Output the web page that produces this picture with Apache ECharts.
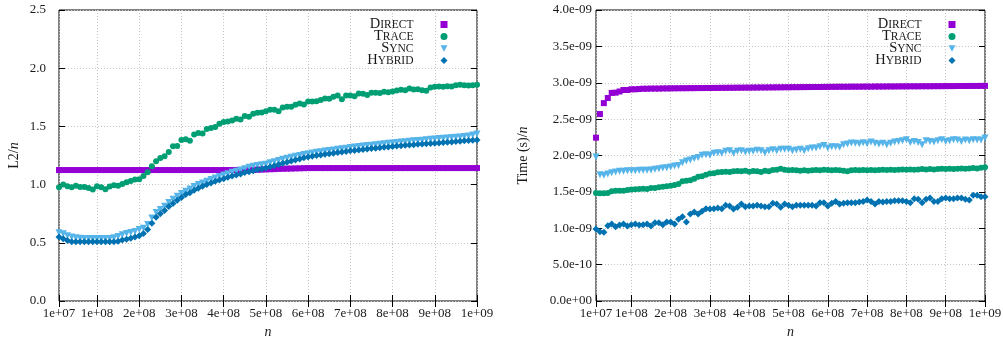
<!DOCTYPE html>
<html>
<head>
<meta charset="utf-8">
<script src="https://cdn.jsdelivr.net/npm/echarts@6/dist/echarts.min.js"></script>
<style>
  html, body { margin: 0; padding: 0; background: #fff; }
  #chart { width: 1003px; height: 338px; }
</style>
</head>
<body>
<div id="chart"></div>
<script>
// problem size n, sampled every 1e7 from 1e7 to 1e9
const nValues = Array.from({ length: 100 }, (_, i) => (i + 1) * 1e7);

const xTicks = [1e7, 1e8, 2e8, 3e8, 4e8, 5e8, 6e8, 7e8, 8e8, 9e8, 1e9];
const xTickLabels = ['1e+07', '1e+08', '2e+08', '3e+08', '4e+08', '5e+08', '6e+08', '7e+08', '8e+08', '9e+08', '1e+09'];
const l2TickLabels = ['0.0', '0.5', '1.0', '1.5', '2.0', '2.5'];
// time axis is kept in units of 1e-9 s
const timeTickLabels = ['0.0e+00', '5.0e-10', '1.0e-09', '1.5e-09', '2.0e-09', '2.5e-09', '3.0e-09', '3.5e-09', '4.0e-09'];

const seriesNames = ['Direct', 'Trace', 'Sync', 'Hybrid'];

// L2 / n
const l2Direct = [
  1.125, 1.125, 1.125, 1.125, 1.125, 1.125, 1.125, 1.125, 1.125, 1.125,
  1.125, 1.125, 1.125, 1.125, 1.125, 1.125, 1.125, 1.125, 1.125, 1.125,
  1.125, 1.125, 1.125, 1.125, 1.125, 1.125, 1.125, 1.125, 1.125, 1.125,
  1.125, 1.125, 1.125, 1.125, 1.125, 1.125, 1.125, 1.125, 1.125, 1.125,
  1.125, 1.125, 1.125, 1.125, 1.125, 1.126, 1.127, 1.128, 1.129, 1.131,
  1.132, 1.133, 1.135, 1.136, 1.137, 1.138, 1.139, 1.14, 1.141, 1.142,
  1.142, 1.142, 1.142, 1.142, 1.142, 1.142, 1.142, 1.142, 1.142, 1.142,
  1.142, 1.142, 1.142, 1.142, 1.142, 1.142, 1.142, 1.142, 1.142, 1.142,
  1.142, 1.142, 1.142, 1.142, 1.142, 1.142, 1.142, 1.142, 1.142, 1.142,
  1.142, 1.142, 1.142, 1.142, 1.142, 1.142, 1.142, 1.142, 1.142, 1.142
];
const l2Trace = [
  0.977, 1.0, 0.986, 0.977, 0.99, 0.98, 0.98, 0.97, 0.957, 0.986,
  0.977, 0.96, 0.983, 0.994, 0.99, 1.006, 1.02, 1.03, 1.043, 1.046,
  1.074, 1.106, 1.157, 1.2, 1.229, 1.243, 1.28, 1.33, 1.331, 1.383,
  1.389, 1.377, 1.43, 1.443, 1.44, 1.477, 1.486, 1.494, 1.523, 1.537,
  1.543, 1.551, 1.566, 1.56, 1.59, 1.583, 1.609, 1.617, 1.62, 1.63,
  1.643, 1.643, 1.631, 1.663, 1.669, 1.669, 1.686, 1.697, 1.689, 1.714,
  1.714, 1.717, 1.726, 1.74, 1.737, 1.754, 1.766, 1.734, 1.766, 1.766,
  1.76, 1.783, 1.78, 1.769, 1.789, 1.789, 1.786, 1.797, 1.794, 1.8,
  1.809, 1.814, 1.811, 1.826, 1.817, 1.82, 1.811, 1.806, 1.834, 1.84,
  1.843, 1.84, 1.846, 1.843, 1.854, 1.857, 1.854, 1.851, 1.854, 1.857
];
const l2Sync = [
  0.586, 0.577, 0.56, 0.549, 0.543, 0.54, 0.537, 0.537, 0.537, 0.537,
  0.537, 0.537, 0.537, 0.543, 0.554, 0.569, 0.58, 0.589, 0.597, 0.614,
  0.626, 0.657, 0.714, 0.76, 0.786, 0.814, 0.846, 0.874, 0.9, 0.923,
  0.943, 0.963, 0.983, 1.0, 1.014, 1.029, 1.043, 1.057, 1.069, 1.083,
  1.094, 1.106, 1.114, 1.126, 1.137, 1.149, 1.157, 1.164, 1.17, 1.175,
  1.187, 1.197, 1.207, 1.217, 1.226, 1.235, 1.243, 1.25, 1.258, 1.265,
  1.271, 1.277, 1.283, 1.288, 1.293, 1.298, 1.303, 1.308, 1.313, 1.318,
  1.322, 1.327, 1.331, 1.335, 1.339, 1.343, 1.347, 1.351, 1.355, 1.358,
  1.362, 1.365, 1.369, 1.372, 1.376, 1.379, 1.382, 1.385, 1.389, 1.392,
  1.395, 1.398, 1.401, 1.404, 1.407, 1.41, 1.414, 1.418, 1.426, 1.434
];
const l2Hybrid = [
  0.549, 0.534, 0.52, 0.509, 0.509, 0.509, 0.509, 0.509, 0.509, 0.509,
  0.509, 0.509, 0.509, 0.509, 0.514, 0.523, 0.531, 0.54, 0.549, 0.56,
  0.58, 0.614, 0.669, 0.72, 0.749, 0.777, 0.811, 0.837, 0.866, 0.889,
  0.914, 0.931, 0.951, 0.969, 0.986, 1.0, 1.014, 1.029, 1.04, 1.051,
  1.063, 1.074, 1.083, 1.091, 1.103, 1.111, 1.12, 1.129, 1.134, 1.143,
  1.153, 1.163, 1.173, 1.183, 1.193, 1.203, 1.212, 1.221, 1.23, 1.238,
  1.244, 1.25, 1.255, 1.26, 1.265, 1.27, 1.275, 1.28, 1.285, 1.29,
  1.294, 1.298, 1.302, 1.306, 1.31, 1.313, 1.317, 1.32, 1.324, 1.328,
  1.331, 1.334, 1.337, 1.34, 1.343, 1.346, 1.349, 1.351, 1.353, 1.355,
  1.358, 1.361, 1.364, 1.367, 1.37, 1.373, 1.376, 1.378, 1.38, 1.383
];

// Time (s) / n, in 1e-9 s
const timeDirect = [
  2.245, 2.57, 2.72, 2.79, 2.86, 2.864, 2.88, 2.9, 2.9, 2.91,
  2.91, 2.914, 2.918, 2.918, 2.92, 2.92, 2.92, 2.922, 2.922, 2.923,
  2.924, 2.924, 2.925, 2.925, 2.926, 2.926, 2.927, 2.927, 2.928, 2.928,
  2.929, 2.929, 2.93, 2.93, 2.931, 2.931, 2.932, 2.932, 2.933, 2.933,
  2.934, 2.934, 2.935, 2.935, 2.936, 2.936, 2.937, 2.937, 2.938, 2.938,
  2.939, 2.939, 2.94, 2.94, 2.941, 2.941, 2.942, 2.942, 2.943, 2.943,
  2.944, 2.944, 2.945, 2.945, 2.945, 2.946, 2.946, 2.946, 2.947, 2.947,
  2.947, 2.948, 2.948, 2.948, 2.949, 2.949, 2.949, 2.95, 2.95, 2.95,
  2.951, 2.951, 2.951, 2.952, 2.952, 2.952, 2.953, 2.953, 2.953, 2.954,
  2.954, 2.954, 2.955, 2.955, 2.955, 2.956, 2.956, 2.956, 2.957, 2.957
];
const timeTrace = [
  1.485, 1.481, 1.481, 1.485, 1.508, 1.517, 1.517, 1.517, 1.526, 1.531,
  1.535, 1.54, 1.544, 1.54, 1.554, 1.554, 1.563, 1.572, 1.576, 1.585,
  1.595, 1.608, 1.645, 1.654, 1.659, 1.682, 1.709, 1.714, 1.737, 1.751,
  1.755, 1.769, 1.773, 1.778, 1.773, 1.782, 1.787, 1.782, 1.791, 1.778,
  1.787, 1.782, 1.773, 1.791, 1.782, 1.8, 1.805, 1.819, 1.805, 1.796,
  1.8, 1.796, 1.791, 1.796, 1.791, 1.796, 1.8, 1.796, 1.805, 1.8,
  1.796, 1.8, 1.796, 1.791, 1.782, 1.796, 1.8, 1.796, 1.8, 1.796,
  1.8, 1.796, 1.8, 1.805, 1.8, 1.805, 1.8, 1.805, 1.809, 1.805,
  1.809, 1.805, 1.809, 1.814, 1.809, 1.814, 1.809, 1.814, 1.818, 1.814,
  1.818, 1.814, 1.818, 1.823, 1.818, 1.823, 1.828, 1.823, 1.832, 1.837
];
const timeSync = [
  1.98, 1.737, 1.728, 1.746, 1.764, 1.773, 1.782, 1.782, 1.791, 1.791,
  1.791, 1.796, 1.796, 1.796, 1.8, 1.81, 1.819, 1.828, 1.833, 1.842,
  1.855, 1.864, 1.901, 1.924, 1.938, 1.96, 1.974, 2.002, 2.011, 2.002,
  2.03, 2.039, 2.03, 2.057, 2.066, 2.03, 2.057, 2.066, 2.048, 2.057,
  2.057, 2.071, 2.066, 2.039, 2.066, 2.08, 2.066, 2.085, 2.085, 2.085,
  2.066, 2.076, 2.085, 2.066, 2.094, 2.103, 2.103, 2.121, 2.139, 2.103,
  2.121, 2.121, 2.112, 2.148, 2.158, 2.171, 2.167, 2.162, 2.176, 2.162,
  2.185, 2.167, 2.158, 2.167, 2.148, 2.167, 2.185, 2.194, 2.203, 2.217,
  2.18, 2.194, 2.18, 2.148, 2.203, 2.194, 2.185, 2.203, 2.217, 2.194,
  2.203, 2.217, 2.212, 2.194, 2.212, 2.203, 2.217, 2.212, 2.212, 2.24
];
const timeHybrid = [
  0.99, 0.953, 0.944, 1.035, 1.058, 1.021, 1.044, 1.058, 1.03, 1.049,
  1.058, 1.044, 1.049, 1.058, 1.03, 1.076, 1.076, 1.049, 1.085, 1.085,
  1.058, 1.122, 1.159, 1.085, 1.195, 1.223, 1.195, 1.232, 1.269, 1.264,
  1.269, 1.278, 1.269, 1.315, 1.305, 1.264, 1.287, 1.333, 1.296, 1.305,
  1.305, 1.315, 1.305, 1.296, 1.296, 1.342, 1.333, 1.287, 1.333, 1.315,
  1.296, 1.315, 1.315, 1.315, 1.315, 1.315, 1.305, 1.351, 1.351, 1.305,
  1.342, 1.369, 1.333, 1.342, 1.351, 1.351, 1.351, 1.36, 1.369, 1.388,
  1.369, 1.333, 1.369, 1.36, 1.369, 1.369, 1.379, 1.379, 1.379, 1.369,
  1.351, 1.406, 1.397, 1.351, 1.397, 1.415, 1.369, 1.369, 1.406, 1.415,
  1.406, 1.406, 1.415, 1.415, 1.397, 1.388, 1.452, 1.452, 1.434, 1.434
];

const serif = '"Liberation Serif", "DejaVu Serif", serif';
const textColor = '#1a1a1a';

// gnuplot-ish point types
const markStyle = {
  Direct: { symbol: 'rect', symbolSize: 6, color: '#9400d3', rotate: 0 },
  Trace: { symbol: 'circle', symbolSize: 6, color: '#009e73', rotate: 0 },
  Sync: { symbol: 'triangle', symbolSize: 7, color: '#56b4e9', rotate: 180 },
  Hybrid: { symbol: 'diamond', symbolSize: 7, color: '#0072b2', rotate: 0 }
};
// small caps faked with two font sizes, plus a spacer before the marker
const smallCaps = {
  Direct: '{c|D}{s|IRECT}{g| }',
  Trace: '{c|T}{s|RACE}{g| }',
  Sync: '{c|S}{s|YNC}{g| }',
  Hybrid: '{c|H}{s|YBRID}{g| }'
};
// legend icons: the rotated triangle is not inherited, so give it as a path
const legendIcons = {
  Direct: 'rect',
  Trace: 'circle',
  Sync: 'path://M0,0L10,0L5,9Z',
  Hybrid: 'diamond'
};

const chart = echarts.init(document.getElementById('chart'), null, { renderer: 'canvas' });

function xAxisPair(gridIndex) {
  const base = {
    type: 'value',
    gridIndex,
    min: 1e7,
    max: 1e9,
    axisLine: { show: false },
    axisTick: { inside: true, length: 6, customValues: xTicks, lineStyle: { color: '#000' } },
    splitLine: { show: false }
  };
  return [
    {
      ...base,
      position: 'bottom',
      name: '{i|n}',
      nameLocation: 'middle',
      nameGap: 23,
      nameTextStyle: { rich: { i: { fontFamily: serif, fontStyle: 'italic', fontSize: 14, color: textColor } } },
      axisLabel: {
        customValues: xTicks,
        margin: 6,
        fontFamily: serif,
        fontSize: 13,
        color: textColor,
        formatter: (v) => xTickLabels[xTicks.findIndex((t) => Math.abs(t - v) < 1)]
      },
      splitLine: { show: true, lineStyle: { color: '#c4c4c4', width: 1, type: [1, 2] } }
    },
    { ...base, position: 'top', axisLabel: { show: false } }
  ];
}

function yAxisPair(gridIndex, max, labels, margin, name, nameGap) {
  const base = {
    type: 'value',
    gridIndex,
    min: 0,
    max,
    interval: 0.5,
    axisLine: { show: false },
    axisTick: { inside: true, length: 6, lineStyle: { color: '#000' } },
    splitLine: { show: false }
  };
  return [
    {
      ...base,
      position: 'left',
      name,
      nameLocation: 'middle',
      nameGap,
      nameTextStyle: {
        fontFamily: serif,
        fontSize: 14,
        color: textColor,
        rich: { i: { fontFamily: serif, fontStyle: 'italic', fontSize: 14, color: textColor } }
      },
      axisLabel: {
        margin,
        fontFamily: serif,
        fontSize: 13,
        color: textColor,
        formatter: (v) => labels[Math.round(v / 0.5)]
      },
      splitLine: { show: true, lineStyle: { color: '#c4c4c4', width: 1, type: [1, 2] } }
    },
    { ...base, position: 'right', axisLabel: { show: false } }
  ];
}

function legendAt(right) {
  return {
    data: seriesNames.map((name) => ({ name, icon: legendIcons[name] })),
    orient: 'vertical',
    align: 'right',
    right,
    top: 17,
    padding: 0,
    itemGap: -3,
    itemWidth: 7,
    itemHeight: 7,
    selectedMode: false,
    formatter: (name) => smallCaps[name],
    textStyle: {
      color: textColor,
      rich: {
        c: { fontFamily: serif, fontSize: 14.5, lineHeight: 12, color: textColor },
        s: { fontFamily: serif, fontSize: 11.5, lineHeight: 12, color: textColor },
        g: { width: 22, lineHeight: 12, fontSize: 10 }
      }
    }
  };
}

function scatter(name, values, axisIndex) {
  const m = markStyle[name];
  return {
    name,
    type: 'scatter',
    xAxisIndex: axisIndex,
    yAxisIndex: axisIndex,
    data: nValues.map((n, i) => [n, values[i]]),
    symbol: m.symbol,
    symbolSize: m.symbolSize,
    symbolRotate: m.rotate,
    itemStyle: { color: m.color, opacity: 1 },
    silent: true
  };
}

const gridBase = { top: 10, height: 291, show: true, borderColor: '#000', borderWidth: 1, outerBoundsMode: 'none' };

const option = {
  animation: false,
  backgroundColor: '#fff',
  grid: [
    { ...gridBase, left: 59, width: 418 },
    { ...gridBase, left: 596, width: 389 }
  ],
  legend: [legendAt(555.5), legendAt(47.5)],
  xAxis: [...xAxisPair(0), ...xAxisPair(1)],
  yAxis: [
    ...yAxisPair(0, 2.5, l2TickLabels, 13, 'L2/{i|n}', 38),
    ...yAxisPair(1, 4, timeTickLabels, 4, 'Time (s)/{i|n}', 66)
  ],
  series: [
    scatter('Direct', l2Direct, 0),
    scatter('Trace', l2Trace, 0),
    scatter('Sync', l2Sync, 0),
    scatter('Hybrid', l2Hybrid, 0),
    scatter('Direct', timeDirect, 2),
    scatter('Trace', timeTrace, 2),
    scatter('Sync', timeSync, 2),
    scatter('Hybrid', timeHybrid, 2)
  ]
};

chart.setOption(option);
</script>
</body>
</html>
